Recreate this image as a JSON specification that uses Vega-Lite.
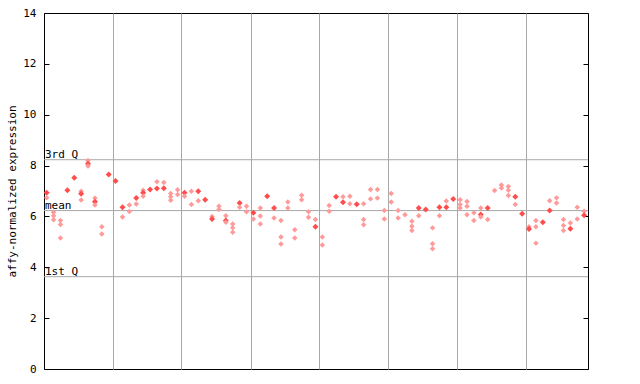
{
  "$schema": "https://vega.github.io/schema/vega-lite/v6.json",
  "width": 544,
  "height": 356,
  "autosize": "none",
  "padding": {"left": 44, "top": 13, "right": 52, "bottom": 15},
  "background": "white",
  "config": {
    "view": {"stroke": "black", "strokeWidth": 1},
    "font": "DejaVu Sans Mono"
  },
  "datasets": {
    "quart": [
      {"q": "3rd Q", "v": 8.23},
      {"q": "mean", "v": 6.23},
      {"q": "1st Q", "v": 3.63}
    ],
    "pts": [
      {"i":0,"v":6.93,"t":"f"},{"i":0,"v":6.73,"t":"h"},
      {"i":1,"v":6.16,"t":"h"},{"i":1,"v":6.03,"t":"h"},{"i":1,"v":5.87,"t":"h"},
      {"i":2,"v":5.84,"t":"h"},{"i":2,"v":5.68,"t":"h"},{"i":2,"v":5.15,"t":"h"},
      {"i":3,"v":7.03,"t":"f"},
      {"i":4,"v":7.52,"t":"f"},
      {"i":5,"v":6.99,"t":"h"},{"i":5,"v":6.89,"t":"f"},{"i":5,"v":6.65,"t":"h"},
      {"i":6,"v":8.2,"t":"h"},{"i":6,"v":8.07,"t":"f"},{"i":6,"v":7.98,"t":"h"},
      {"i":7,"v":6.72,"t":"h"},{"i":7,"v":6.58,"t":"f"},{"i":7,"v":6.45,"t":"h"},
      {"i":8,"v":5.59,"t":"h"},{"i":8,"v":5.31,"t":"h"},
      {"i":9,"v":7.65,"t":"f"},
      {"i":10,"v":7.39,"t":"f"},
      {"i":11,"v":6.36,"t":"f"},{"i":11,"v":5.98,"t":"h"},
      {"i":12,"v":6.45,"t":"h"},{"i":12,"v":6.19,"t":"h"},
      {"i":13,"v":6.72,"t":"f"},{"i":13,"v":6.49,"t":"h"},
      {"i":14,"v":7.03,"t":"h"},{"i":14,"v":6.93,"t":"f"},{"i":14,"v":6.79,"t":"h"},
      {"i":15,"v":7.06,"t":"f"},
      {"i":16,"v":7.36,"t":"h"},{"i":16,"v":7.1,"t":"f"},
      {"i":17,"v":7.33,"t":"h"},{"i":17,"v":7.11,"t":"f"},
      {"i":18,"v":6.9,"t":"h"},{"i":18,"v":6.77,"t":"h"},{"i":18,"v":6.64,"t":"h"},
      {"i":19,"v":7.05,"t":"h"},{"i":19,"v":6.86,"t":"h"},
      {"i":20,"v":6.93,"t":"f"},{"i":20,"v":6.79,"t":"h"},
      {"i":21,"v":6.99,"t":"h"},{"i":21,"v":6.47,"t":"h"},
      {"i":22,"v":6.99,"t":"f"},{"i":22,"v":6.62,"t":"h"},
      {"i":23,"v":6.66,"t":"f"},
      {"i":24,"v":6.0,"t":"h"},{"i":24,"v":5.9,"t":"f"},
      {"i":25,"v":6.4,"t":"h"},{"i":25,"v":6.27,"t":"h"},
      {"i":26,"v":6.03,"t":"h"},{"i":26,"v":5.84,"t":"f"},{"i":26,"v":5.77,"t":"h"},
      {"i":27,"v":5.7,"t":"h"},{"i":27,"v":5.55,"t":"h"},{"i":27,"v":5.38,"t":"h"},
      {"i":28,"v":6.53,"t":"f"},{"i":28,"v":6.36,"t":"h"},
      {"i":29,"v":6.4,"t":"h"},{"i":29,"v":6.18,"t":"h"},
      {"i":30,"v":6.14,"t":"f"},{"i":30,"v":5.9,"t":"h"},
      {"i":31,"v":6.33,"t":"h"},{"i":31,"v":6.02,"t":"h"},{"i":31,"v":5.7,"t":"h"},
      {"i":32,"v":6.79,"t":"f"},
      {"i":33,"v":6.33,"t":"f"},{"i":33,"v":5.94,"t":"h"},
      {"i":34,"v":5.84,"t":"h"},{"i":34,"v":5.19,"t":"h"},{"i":34,"v":4.92,"t":"h"},
      {"i":35,"v":6.57,"t":"h"},{"i":35,"v":6.33,"t":"h"},
      {"i":36,"v":5.48,"t":"h"},{"i":36,"v":5.15,"t":"h"},
      {"i":37,"v":6.83,"t":"h"},{"i":37,"v":6.66,"t":"h"},
      {"i":38,"v":6.18,"t":"h"},{"i":38,"v":5.97,"t":"h"},
      {"i":39,"v":5.88,"t":"h"},{"i":39,"v":5.59,"t":"f"},
      {"i":40,"v":5.19,"t":"h"},{"i":40,"v":4.88,"t":"h"},
      {"i":41,"v":6.43,"t":"h"},{"i":41,"v":6.2,"t":"h"},
      {"i":42,"v":6.77,"t":"f"},
      {"i":43,"v":6.77,"t":"h"},{"i":43,"v":6.56,"t":"f"},
      {"i":44,"v":6.79,"t":"h"},{"i":44,"v":6.5,"t":"h"},
      {"i":45,"v":6.48,"t":"f"},
      {"i":46,"v":6.5,"t":"h"},{"i":46,"v":5.88,"t":"h"},{"i":46,"v":5.67,"t":"h"},
      {"i":47,"v":7.06,"t":"h"},{"i":47,"v":6.69,"t":"h"},
      {"i":48,"v":7.06,"t":"h"},{"i":48,"v":6.72,"t":"h"},
      {"i":49,"v":6.23,"t":"h"},{"i":49,"v":5.9,"t":"h"},
      {"i":50,"v":6.9,"t":"h"},{"i":50,"v":6.57,"t":"h"},
      {"i":51,"v":6.23,"t":"h"},{"i":51,"v":5.94,"t":"h"},
      {"i":52,"v":6.07,"t":"h"},
      {"i":53,"v":5.81,"t":"h"},{"i":53,"v":5.61,"t":"h"},{"i":53,"v":5.45,"t":"h"},
      {"i":54,"v":6.33,"t":"f"},{"i":54,"v":6.03,"t":"h"},
      {"i":55,"v":6.27,"t":"f"},
      {"i":56,"v":5.55,"t":"h"},{"i":56,"v":4.93,"t":"h"},{"i":56,"v":4.73,"t":"h"},
      {"i":57,"v":6.36,"t":"f"},{"i":57,"v":6.03,"t":"h"},
      {"i":58,"v":6.61,"t":"h"},{"i":58,"v":6.36,"t":"f"},
      {"i":59,"v":6.69,"t":"f"},
      {"i":60,"v":6.66,"t":"h"},{"i":60,"v":6.47,"t":"h"},{"i":60,"v":6.33,"t":"h"},
      {"i":61,"v":6.59,"t":"h"},{"i":61,"v":6.4,"t":"h"},{"i":61,"v":6.07,"t":"h"},
      {"i":62,"v":6.14,"t":"h"},{"i":62,"v":5.84,"t":"h"},
      {"i":63,"v":6.33,"t":"h"},{"i":63,"v":6.08,"t":"f"},{"i":63,"v":5.98,"t":"h"},
      {"i":64,"v":6.33,"t":"f"},{"i":64,"v":5.88,"t":"h"},
      {"i":65,"v":7.02,"t":"h"},
      {"i":66,"v":7.24,"t":"h"},{"i":66,"v":7.12,"t":"h"},
      {"i":67,"v":7.18,"t":"h"},{"i":67,"v":7.03,"t":"h"},{"i":67,"v":6.82,"t":"h"},
      {"i":68,"v":6.77,"t":"f"},{"i":68,"v":6.47,"t":"h"},
      {"i":69,"v":6.11,"t":"f"},
      {"i":70,"v":5.59,"t":"h"},{"i":70,"v":5.51,"t":"f"},
      {"i":71,"v":5.84,"t":"h"},{"i":71,"v":5.59,"t":"h"},{"i":71,"v":4.95,"t":"h"},
      {"i":72,"v":5.77,"t":"f"},
      {"i":73,"v":6.62,"t":"h"},{"i":73,"v":6.23,"t":"f"},
      {"i":74,"v":6.73,"t":"h"},{"i":74,"v":6.53,"t":"h"},
      {"i":75,"v":5.88,"t":"h"},{"i":75,"v":5.64,"t":"h"},{"i":75,"v":5.45,"t":"h"},
      {"i":76,"v":5.74,"t":"h"},{"i":76,"v":5.52,"t":"f"},
      {"i":77,"v":6.36,"t":"h"},{"i":77,"v":5.9,"t":"h"},
      {"i":78,"v":6.2,"t":"h"},{"i":78,"v":6.05,"t":"f"}
    ]
  },
  "layer": [
    {
      "data": {"name": "quart"},
      "mark": {"type": "rule", "color": "#a8a8a8", "strokeWidth": 1},
      "encoding": {
        "y": {
          "field": "v", "type": "quantitative",
          "scale": {"domain": [0, 14], "nice": false, "zero": false},
          "axis": {
            "orient": "right", "title": null, "labels": false, "domain": false,
            "grid": false, "values": [0, 2, 4, 6, 8, 10, 12, 14],
            "tickSize": -5, "tickColor": "black", "tickWidth": 1
          }
        }
      }
    },
    {
      "data": {"name": "quart"},
      "mark": {"type": "text", "align": "left", "baseline": "alphabetic", "dx": 1, "dy": -2, "font": "DejaVu Sans Mono", "fontSize": 11, "color": "black"},
      "encoding": {
        "x": {"datum": -0.39, "type": "quantitative"},
        "y": {"field": "v", "type": "quantitative", "axis": null},
        "text": {"field": "q"}
      }
    },
    {
      "data": {"name": "pts"},
      "mark": {"type": "point", "shape": "diamond", "filled": true, "opacity": 1},
      "encoding": {
        "x": {
          "field": "i", "type": "quantitative",
          "scale": {"domain": [-0.39, 78.56], "nice": false, "zero": false},
          "axis": {
            "title": null, "labels": false, "ticks": false, "domain": false,
            "grid": true, "gridColor": "#a8a8a8", "gridOpacity": 1, "gridWidth": 1,
            "values": [9.58, 19.55, 29.58, 39.58, 49.58, 59.53, 69.53]
          }
        },
        "y": {
          "field": "v", "type": "quantitative",
          "axis": {
            "orient": "left", "title": "affy-normalized expression",
            "titleFont": "DejaVu Sans Mono", "titleFontSize": 11, "titleFontWeight": "normal",
            "titleColor": "black", "titlePadding": 5,
            "labelFont": "DejaVu Sans Mono", "labelFontSize": 11, "labelColor": "black",
            "values": [0, 2, 4, 6, 8, 10, 12, 14],
            "tickSize": -5, "tickColor": "black", "labelPadding": 13,
            "domain": false, "grid": false
          }
        },
        "color": {
          "field": "t", "type": "nominal",
          "scale": {"domain": ["f", "h"], "range": ["#ff4d4d", "#ff9a9a"]},
          "legend": null
        },
        "size": {
          "field": "t", "type": "nominal",
          "scale": {"domain": ["f", "h"], "range": [36, 30]},
          "legend": null
        }
      }
    }
  ],
  "resolve": {"axis": {"y": "independent"}}
}
